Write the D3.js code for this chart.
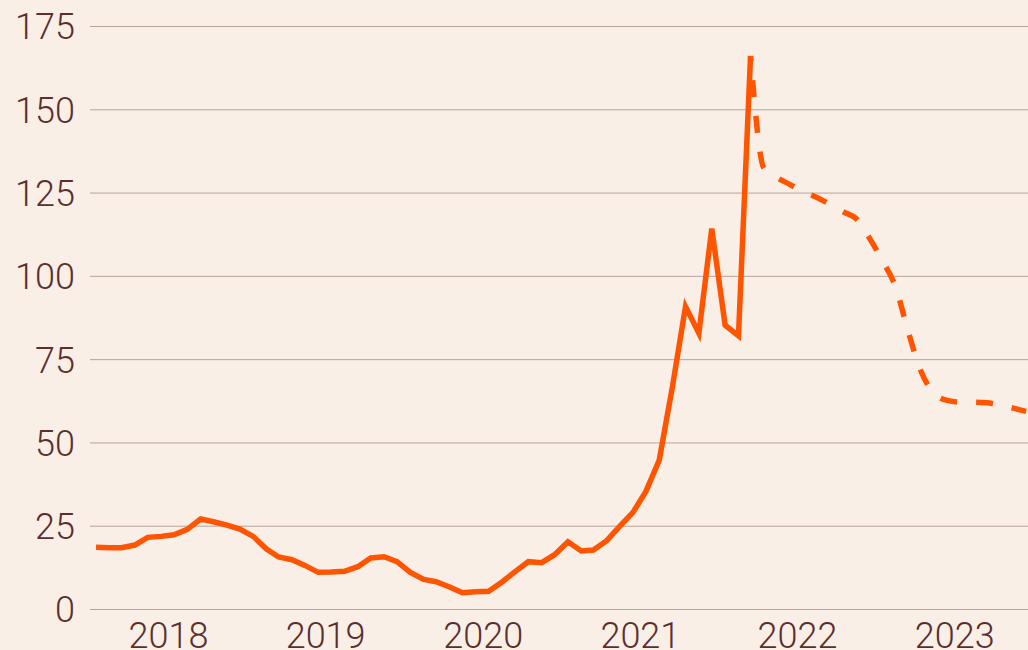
<!DOCTYPE html>
<html>
<head>
<meta charset="utf-8">
<script src="https://cdn.jsdelivr.net/npm/d3@7"></script>
<style>
  html, body { margin: 0; padding: 0; background: #f9efe6; }
  svg { display: block; }
  text { font-family: Roboto, "Noto Sans", sans-serif; font-weight: 300; }
</style>
</head>
<body>
<svg id="chart" width="1028" height="650"></svg>
<script>
// Monthly actual values, Jan 2018 – Mar 2022
const actualStart = "2018-01";
const actualValues = [
  18.5, 18.4, 18.4, 19.2, 21.5, 21.8, 22.3, 23.9, 27.0, 26.2, 25.2, 24.0,
  21.8, 18.0, 15.6, 14.8, 13.1, 11.0, 11.1, 11.3, 12.7, 15.3, 15.7, 14.2,
  11.0, 8.9, 8.2, 6.6, 4.9, 5.2, 5.3, 8.1, 11.3, 14.2, 13.9, 16.3,
  20.2, 17.4, 17.7, 20.5, 24.8, 29.0, 35.3, 44.7, 67.0, 90.8, 82.8, 114.2,
  85.2, 82.0, 166.0
];
// Monthly forecast values, Mar 2022 – Dec 2023
const forecastStart = "2022-03";
const forecastValues = [
  166.0, 132.3, 129.5, 127.4, 125.3, 123.6, 121.5, 119.3, 117.2, 111.6,
  104.6, 96.6, 83.8, 71.3, 64.8, 62.6, 62.1, 62.1, 61.9, 61.2, 60.3, 59.3
];
const yTicks = [0, 25, 50, 75, 100, 125, 150, 175];
const xTickYears = [2018, 2019, 2020, 2021, 2022, 2023];

const W = 1028, H = 650;
const svg = d3.select("#chart");
svg.append("rect").attr("width", W).attr("height", H).attr("fill", "#f9efe6");

const x = d3.scaleTime()
  .domain([new Date(2018, 0, 1), new Date(2024, 0, 1)])
  .range([90, 90 + 6 * 157.24]);
const y = d3.scaleLinear().domain([0, 175]).range([609, 26]);

function monthSeries(start, values) {
  const [yy, mm] = start.split("-").map(Number);
  return values.map((v, i) => ({ date: new Date(yy, mm - 1 + i, 15), value: v }));
}
const actual = monthSeries(actualStart, actualValues);
const forecast = monthSeries(forecastStart, forecastValues);

// Y axis: gridlines + labels
const yAxis = d3.axisLeft(y).tickValues(yTicks).tickSize(-(W - 90)).tickPadding(15).tickFormat(d3.format("d"));
const gy = svg.append("g").attr("transform", "translate(90,0)").call(yAxis);
gy.select(".domain").remove();
gy.selectAll(".tick line").attr("stroke", "#b8a39b").attr("stroke-width", 1);
gy.selectAll(".tick text")
  .attr("fill", "#5a2f2e")
  .attr("font-size", 36)
  .attr("font-weight", 300)
  .attr("font-family", "Roboto, sans-serif")
  .attr("dy", "0.36em");

// X axis labels (at mid-year)
const xAxis = d3.axisBottom(x)
  .tickValues(xTickYears.map(yr => new Date(yr, 6, 1)))
  .tickSize(0).tickPadding(0)
  .tickFormat(d3.timeFormat("%Y"));
const gx = svg.append("g").attr("transform", "translate(0,622)").call(xAxis);
gx.select(".domain").remove();
gx.selectAll(".tick text")
  .attr("fill", "#5a2f2e")
  .attr("font-size", 36)
  .attr("font-weight", 300)
  .attr("font-family", "Roboto, sans-serif")
  .attr("dy", "0.72em");

// Lines
const lineLinear = d3.line().x(d => x(d.date)).y(d => y(d.value));
const lineSmooth = d3.line().x(d => x(d.date)).y(d => y(d.value)).curve(d3.curveMonotoneX);

svg.append("path")
  .datum(forecast)
  .attr("d", lineSmooth)
  .attr("fill", "none")
  .attr("stroke", "#ff5500")
  .attr("stroke-width", 5.5)
  .attr("stroke-dasharray", "17,19")
  .attr("stroke-dashoffset", 12);

svg.append("path")
  .datum(actual)
  .attr("d", lineLinear)
  .attr("fill", "none")
  .attr("stroke", "#ff5500")
  .attr("stroke-width", 5.5)
  .attr("stroke-linejoin", "miter");
</script>
</body>
</html>
